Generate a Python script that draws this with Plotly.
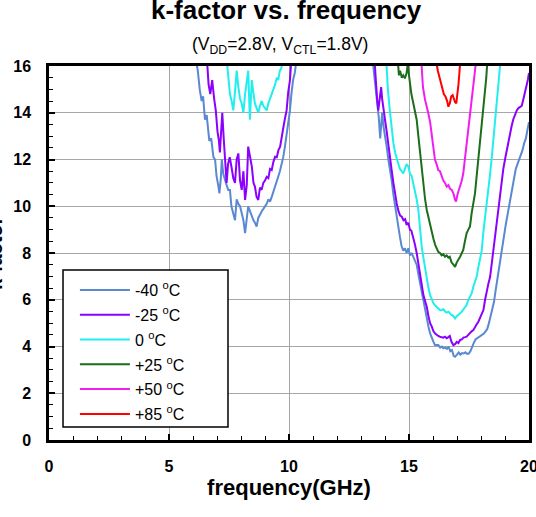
import plotly.graph_objects as go

# ---------------- data ----------------
labels = ["-40 <sup>o</sup>C", "-25 <sup>o</sup>C", "0 <sup>o</sup>C",
          "+25 <sup>o</sup>C", "+50 <sup>o</sup>C", "+85 <sup>o</sup>C"]
colors = ["#5A88D2", "#8B00FF", "#22EEEE", "#1B6E1B", "#F01EF0", "#FF0000"]

# -40 C
m40_lo_f = [6.10, 6.20, 6.28, 6.36, 6.42, 6.50, 6.57, 6.63, 6.68, 6.76, 6.85, 6.92, 6.98, 7.05, 7.10, 7.16,
            7.20, 7.26, 7.33, 7.40, 7.47, 7.54, 7.60, 7.68, 7.75, 7.82, 7.89, 7.96, 8.03, 8.10, 8.17, 8.24,
            8.30, 8.37, 8.45, 8.52, 8.58, 8.65, 8.72, 8.80, 8.87, 8.94, 9.00, 9.07, 9.14, 9.21, 9.28, 9.35,
            9.42, 9.49, 9.55, 9.62, 9.70, 9.76, 9.83, 9.90, 9.97, 10.04, 10.10, 10.17, 10.24, 10.32]
m40_lo_k = [16.4, 15.8, 15.0, 14.5, 14.7, 13.7, 13.9, 13.3, 12.8, 12.9, 12.1, 12.0, 11.3, 10.9, 10.55, 11.2,
            12.0, 11.4, 11.1, 10.9, 10.7, 10.7, 10.0, 9.7, 9.4, 10.3, 10.1, 10.0, 9.7, 9.4, 8.85, 9.4,
            10.0, 9.8, 9.55, 9.4, 9.3, 9.13, 9.5, 9.7, 9.8, 9.9, 10.0, 10.1, 10.3, 10.2, 10.4, 10.6,
            10.8, 11.0, 11.26, 11.5, 11.84, 12.1, 12.55, 13.0, 13.6, 14.1, 14.8, 15.4, 15.7, 16.3]
m40_hi_f = [13.48, 13.55, 13.62, 13.68, 13.74, 13.80, 13.84, 13.88, 13.94, 14.00, 14.07, 14.14, 14.21, 14.28,
            14.35, 14.42, 14.49, 14.55, 14.62, 14.69, 14.76, 14.83, 14.90, 14.97, 15.04, 15.11, 15.18, 15.25,
            15.32, 15.39, 15.46, 15.53, 15.60, 15.67, 15.74, 15.81, 15.88, 15.95, 16.02, 16.08, 16.16, 16.22,
            16.30, 16.37, 16.43, 16.51, 16.58, 16.65, 16.72, 16.79, 16.86, 16.92, 17.00, 17.07, 17.14, 17.21,
            17.28, 17.35, 17.42, 17.49, 17.56, 17.63, 17.70, 17.77, 17.84, 17.91, 17.98, 18.05, 18.12, 18.19,
            18.26, 18.33, 18.40, 18.47, 18.54, 18.61, 18.68, 18.75, 18.82, 18.89, 18.96, 19.03, 19.10, 19.17,
            19.24, 19.31, 19.38, 19.45, 19.52, 19.59, 19.66, 19.73, 19.80, 19.87, 19.94, 20.00]
m40_hi_k = [16.3, 15.6, 15.0, 14.6, 13.8, 12.9, 13.6, 14.0, 13.4, 12.9, 12.55, 12.0, 11.6, 11.1,
            10.5, 10.0, 9.5, 9.1, 8.7, 8.3, 8.1, 8.2, 8.0, 8.2, 7.9, 8.0, 7.85, 7.7,
            7.5, 7.1, 6.7, 6.3, 5.95, 5.56, 5.13, 4.85, 4.56, 4.35, 4.2, 4.06, 4.05, 4.06,
            3.95, 4.0, 3.92, 3.95, 3.9, 3.99, 3.8, 3.85, 3.6, 3.56, 3.65, 3.75, 3.65, 3.72,
            3.7, 3.75, 3.68, 3.7, 3.8, 4.0, 4.15, 4.3, 4.35, 4.4, 4.45, 4.5, 4.55, 4.65,
            4.75, 5.0, 5.3, 5.6, 5.9, 6.4, 6.9, 7.3, 7.8, 8.3, 8.8, 9.2, 9.6, 10.0,
            10.4, 10.9, 11.3, 11.6, 11.8, 12.0, 12.25, 12.4, 12.7, 12.9, 13.3, 13.6]

# -25 C
m25_lo_f = [6.58, 6.65, 6.72, 6.80, 6.88, 6.95, 7.02, 7.08, 7.12, 7.18, 7.22, 7.28, 7.33, 7.40, 7.46, 7.53,
            7.60, 7.68, 7.75, 7.82, 7.89, 7.96, 8.03, 8.10, 8.17, 8.24, 8.30, 8.37, 8.45, 8.52, 8.58, 8.65,
            8.72, 8.79, 8.86, 8.93, 9.00, 9.07, 9.14, 9.21, 9.28, 9.35, 9.42, 9.49, 9.56, 9.63, 9.70, 9.77,
            9.84, 9.90, 9.97, 10.04, 10.10]
m25_lo_k = [16.3, 15.2, 14.8, 15.4, 14.6, 14.1, 13.2, 12.8, 12.3, 13.6, 14.0, 12.9, 12.0, 11.0, 11.8, 12.1,
            11.7, 11.2, 11.0, 12.0, 12.26, 11.1, 10.7, 11.5, 10.27, 10.9, 12.55, 12.1, 11.7, 11.0, 10.84, 10.4,
            10.27, 10.8, 10.7, 11.0, 11.1, 11.26, 11.2, 11.6, 11.55, 11.9, 12.12, 12.1, 12.4, 12.55, 12.9, 13.4,
            13.8, 14.1, 14.9, 15.4, 16.3]
m25_hi_f = [13.56, 13.62, 13.67, 13.72, 13.78, 13.84, 13.88, 13.94, 14.00, 14.07, 14.14, 14.20, 14.27, 14.35,
            14.42, 14.49, 14.56, 14.63, 14.70, 14.77, 14.84, 14.90, 14.97, 15.04, 15.10, 15.17, 15.24, 15.32,
            15.39, 15.46, 15.53, 15.60, 15.67, 15.74, 15.81, 15.88, 15.95, 16.02, 16.09, 16.15, 16.22, 16.29,
            16.36, 16.43, 16.50, 16.57, 16.64, 16.70, 16.77, 16.85, 16.92, 16.99, 17.06, 17.13, 17.20, 17.27,
            17.34, 17.40, 17.47, 17.54, 17.61, 17.68, 17.75, 17.82, 17.89, 17.96, 18.03, 18.10, 18.17, 18.24,
            18.31, 18.38, 18.45, 18.52, 18.59, 18.66, 18.72, 18.79, 18.86, 18.93, 19.00, 19.07, 19.14, 19.20,
            19.27, 19.34, 19.41, 19.49, 19.56, 19.63, 19.70, 19.77, 19.84, 19.90, 19.95, 20.00]
m25_hi_k = [16.3, 15.2, 14.6, 14.1, 14.7, 15.1, 14.6, 14.0, 13.7, 13.2, 12.7, 12.3, 11.6, 11.0,
            10.5, 10.1, 9.8, 9.6, 9.55, 9.4, 9.45, 9.2, 9.3, 9.0, 8.95, 8.7, 8.4, 8.0,
            7.5, 7.0, 6.6, 6.2, 5.95, 5.7, 5.3, 5.0, 4.85, 4.65, 4.55, 4.49, 4.45, 4.42,
            4.4, 4.38, 4.42, 4.35, 4.4, 4.45, 4.2, 4.06, 4.1, 4.2, 4.15, 4.28, 4.3, 4.38,
            4.4, 4.42, 4.5, 4.6, 4.65, 4.7, 4.85, 4.95, 5.06, 5.25, 5.4, 5.56, 6.0, 6.42,
            6.7, 6.98, 7.6, 8.13, 8.8, 9.4, 9.84, 10.6, 11.2, 11.6, 12.0, 12.4, 12.8, 13.1,
            13.4, 13.7, 13.9, 14.1, 14.2, 14.25, 14.3, 14.6, 14.9, 15.1, 15.4, 15.7]

# 0 C
z0_lo_f = [7.40, 7.47, 7.54, 7.61, 7.68, 7.75, 7.82, 7.89, 7.96, 8.03, 8.10, 8.17, 8.23, 8.30, 8.37, 8.45,
           8.51, 8.58, 8.65, 8.72, 8.79, 8.86, 8.93, 9.00, 9.07, 9.14, 9.21, 9.28, 9.35, 9.42, 9.49, 9.55,
           9.62, 9.68, 9.74]
z0_lo_k = [16.3, 15.4, 14.8, 14.5, 14.1, 14.9, 15.8, 15.1, 14.6, 14.4, 14.0, 14.8, 15.3, 15.8, 13.7, 15.4,
           14.9, 14.4, 14.2, 14.0, 14.3, 14.5, 14.3, 14.2, 14.1, 14.4, 14.6, 14.8, 15.0, 15.2, 15.5, 15.4,
           15.8, 15.9, 16.3]
z0_hi_f = [14.05, 14.12, 14.20, 14.27, 14.35, 14.42, 14.49, 14.55, 14.62, 14.69, 14.76, 14.83, 14.90, 14.97,
           15.04, 15.11, 15.18, 15.25, 15.32, 15.39, 15.46, 15.53, 15.60, 15.67, 15.74, 15.81, 15.88, 15.95,
           16.02, 16.09, 16.15, 16.22, 16.29, 16.36, 16.43, 16.50, 16.57, 16.64, 16.70, 16.77, 16.85, 16.92,
           16.99, 17.06, 17.13, 17.20, 17.27, 17.34, 17.40, 17.47, 17.54, 17.61, 17.68, 17.75, 17.82, 17.89,
           17.96, 18.03, 18.10, 18.17, 18.24, 18.31, 18.38, 18.45, 18.52, 18.58, 18.65, 18.72, 18.79, 18.82]
z0_hi_k = [16.3, 15.0, 14.1, 13.4, 12.7, 12.3, 12.1, 11.84, 11.6, 11.5, 11.4, 11.6, 11.8, 11.7,
           11.4, 11.3, 11.0, 10.6, 10.3, 9.84, 9.0, 8.27, 7.8, 7.3, 6.84, 6.5, 6.2, 5.99,
           5.85, 5.75, 5.7, 5.65, 5.56, 5.55, 5.6, 5.5, 5.45, 5.49, 5.42, 5.35, 5.3, 5.2,
           5.3, 5.35, 5.42, 5.49, 5.6, 5.7, 5.77, 5.99, 6.15, 6.27, 6.56, 6.8, 6.98, 7.4,
           7.7, 8.1, 8.9, 9.5, 10.0, 10.7, 11.4, 12.1, 12.9, 13.6, 14.4, 15.2, 16.0, 16.3]

# +25 C
p25_hi_f = [14.53, 14.58, 14.63, 14.70, 14.76, 14.83, 14.90, 14.95, 15.00, 15.05, 15.10, 15.16, 15.22, 15.27,
            15.32, 15.39, 15.46, 15.53, 15.60, 15.67, 15.74, 15.81, 15.88, 15.95, 16.02, 16.09, 16.15, 16.22,
            16.29, 16.36, 16.43, 16.50, 16.57, 16.64, 16.70, 16.77, 16.85, 16.92, 16.99, 17.06, 17.13, 17.20,
            17.26, 17.33, 17.40, 17.47, 17.54, 17.61, 17.68, 17.75, 17.82, 17.89, 17.96, 18.03, 18.10, 18.17,
            18.22, 18.27]
p25_hi_k = [16.3, 15.6, 15.8, 15.5, 15.6, 15.47, 15.7, 16.1, 15.6, 15.1, 14.8, 14.5, 14.2, 13.9,
            13.7, 13.0, 12.3, 11.6, 10.84, 10.3, 9.84, 9.5, 9.2, 8.84, 8.6, 8.35, 8.2, 8.05,
            8.0, 7.9, 7.95, 7.84, 7.9, 7.8, 7.84, 7.6, 7.5, 7.41, 7.6, 7.7, 7.84, 8.0,
            8.13, 8.5, 8.84, 9.0, 9.13, 9.7, 10.1, 10.55, 11.3, 12.0, 12.7, 13.4, 14.1, 14.8,
            15.5, 16.3]

# +50 C
p50_hi_f = [15.51, 15.58, 15.67, 15.74, 15.80, 15.88, 15.95, 16.02, 16.08, 16.15, 16.22, 16.29, 16.36, 16.43,
            16.50, 16.57, 16.64, 16.71, 16.78, 16.85, 16.92, 16.96, 17.02, 17.08, 17.13, 17.20, 17.26, 17.33,
            17.40, 17.47, 17.54, 17.61, 17.68, 17.75, 17.80]
p50_hi_k = [16.3, 15.1, 14.55, 14.3, 14.0, 13.6, 13.1, 12.5, 12.0, 11.8, 11.55, 11.5, 11.3, 11.1,
            11.0, 10.84, 10.9, 10.75, 10.7, 10.55, 10.27, 10.2, 10.5, 10.7, 10.84, 11.1, 11.4, 12.0,
            12.55, 13.3, 13.8, 14.5, 15.1, 15.8, 16.3]

# +85 C
p85_hi_f = [16.12, 16.20, 16.30, 16.38, 16.45, 16.52, 16.59, 16.64, 16.70, 16.76, 16.82, 16.87, 16.92, 16.97,
            17.02, 17.06, 17.10, 17.14]
p85_hi_k = [16.3, 15.8, 15.4, 15.0, 14.8, 14.7, 14.5, 14.26, 14.4, 14.7, 14.75, 14.6, 14.45, 14.4,
            14.8, 15.2, 15.7, 16.3]

x_tickvals = [0, 5, 10, 15, 20]
y_tickvals = [0, 2, 4, 6, 8, 10, 12, 14, 16]

series_f = [m40_lo_f + [None] + m40_hi_f,
            m25_lo_f + [None] + m25_hi_f,
            z0_lo_f + [None] + z0_hi_f,
            p25_hi_f,
            p50_hi_f,
            p85_hi_f]
series_k = [m40_lo_k + [None] + m40_hi_k,
            m25_lo_k + [None] + m25_hi_k,
            z0_lo_k + [None] + z0_hi_k,
            p25_hi_k,
            p50_hi_k,
            p85_hi_k]

FONT = "Liberation Sans, Arial, sans-serif"

fig = go.Figure()
for i, (name, col, fx, ky) in enumerate(zip(labels, colors, series_f, series_k)):
    fig.add_trace(go.Scatter(x=fx, y=ky, mode="lines", name=name, legendgroup=f"g{i}",
                             line=dict(color=col, width=2), connectgaps=False))

axis_common = dict(
    showline=True, linecolor="black", linewidth=2.5, mirror=True,
    showgrid=True, gridcolor="#a6a6a6", gridwidth=1, zeroline=False,
    ticks="inside", ticklen=6, tickwidth=1.5, tickcolor="black",
    tickfont=dict(family=FONT, size=16, color="black", weight="bold"),
    automargin=False, ticklabeloverflow="allow",
)

fig.update_xaxes(range=[0, 20], tickvals=x_tickvals, ticklabelstandoff=10,
                 minor=dict(dtick=1, tick0=0, ticks="inside", ticklen=4, tickwidth=1.2,
                            tickcolor="black", showgrid=False),
                 title=dict(text="frequency(GHz)", standoff=6,
                            font=dict(family=FONT, size=22, color="black", weight="bold")),
                 **axis_common)
fig.update_yaxes(range=[0, 16], tickvals=y_tickvals, ticklabelstandoff=12,
                 minor=dict(dtick=0.5, tick0=0, ticks="inside", ticklen=4, tickwidth=1.2,
                            tickcolor="black", showgrid=False),
                 **axis_common)

# y-axis title: sits mostly beyond the left edge of the picture, as in the reference
fig.add_annotation(text="k-factor", xref="paper", yref="paper",
                   x=(8 - 49) / 480, y=0.5, xanchor="right", yanchor="middle",
                   textangle=-90, showarrow=False,
                   font=dict(family=FONT, size=20, color="black", weight="bold"))

fig.add_annotation(text="k-factor vs. frequency", xref="paper", yref="paper",
                   x=0.494, y=1.15, xanchor="center", yanchor="middle", showarrow=False,
                   font=dict(family=FONT, size=26, color="black", weight="bold"))
fig.add_annotation(text="(V<sub>DD</sub>=2.8V, V<sub>CTL</sub>=1.8V)", xref="paper", yref="paper",
                   x=0.481, y=1.0535, xanchor="center", yanchor="middle", showarrow=False,
                   font=dict(family=FONT, size=17.5, color="black"))

# legend frame (box behind the native legend entries)
fig.add_shape(type="rect", xref="paper", yref="paper",
              x0=0.0292, x1=0.3729, y0=0.0348, y1=0.4545,
              line=dict(color="black", width=1.5), fillcolor="white", layer="above")

fig.update_layout(
    width=536, height=517,
    margin=dict(l=49, r=7, t=66, b=77, autoexpand=False),
    paper_bgcolor="white", plot_bgcolor="white",
    showlegend=True,
    legend=dict(x=0.054, y=0.4465, xanchor="left", yanchor="top",
                bgcolor="rgba(0,0,0,0)", borderwidth=0,
                font=dict(family=FONT, size=16, color="black"),
                itemwidth=50, tracegroupgap=1),
    font=dict(family=FONT, color="black"),
)

fig.write_html("out.html", config={"displayModeBar": False},
               post_script="document.body.style.margin='0';")
